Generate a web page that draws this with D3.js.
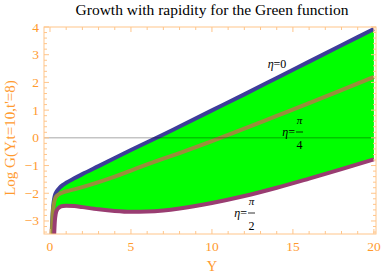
<!DOCTYPE html>
<html>
<head>
<meta charset="utf-8">
<style>
    body { margin: 0; background: #fff; }
    text { font-family: "Liberation Serif", "DejaVu Serif", serif; }
</style>
</head>
<body>
<div id="chart"></div>
<script src="https://d3js.org/d3.v7.min.js"></script>
<script>
    // rapidity grid and the three curves
    var rapidity = [0.09, 0.13, 0.16, 0.2, 0.25, 0.3, 0.35, 0.45, 0.6, 0.8, 1, 1.5, 2, 3, 4, 5, 6, 7, 8, 10, 12, 14, 16, 18, 20];
    var eta0 = [-3.6, -3.1, -2.75, -2.45, -2.22, -2.08, -2.0, -1.9, -1.8, -1.7, -1.62, -1.46, -1.31, -1.02, -0.73, -0.44, -0.16, 0.12, 0.41, 0.99, 1.57, 2.16, 2.75, 3.34, 3.93];
    var etaPi4 = [-3.7, -3.2, -2.85, -2.55, -2.35, -2.22, -2.15, -2.08, -2.02, -1.97, -1.93, -1.86, -1.78, -1.6, -1.4, -1.18, -0.96, -0.75, -0.55, -0.12, 0.33, 0.79, 1.25, 1.72, 2.2];
    var etaPi2 = [null, null, null, null, -3.6, -3.0, -2.75, -2.58, -2.5, -2.46, -2.45, -2.46, -2.5, -2.58, -2.64, -2.67, -2.66, -2.62, -2.55, -2.35, -2.1, -1.8, -1.47, -1.13, -0.78];
    var xTicks = [0, 5, 10, 15, 20];
    var yTicks = [-3, -2, -1, 0, 1, 2, 3, 4];

    var W = 382, H = 275;
    var mLeft = 44, mRight = 376, mTop = 27, mBottom = 234;
    var orange = "#ff9a2e", frameCol = "#ffc58a";

    var svg = d3.select("#chart").append("svg")
        .attr("width", W).attr("height", H);

    var x = d3.scaleLinear().domain([-0.37, 20.13]).range([mLeft, mRight]);
    var y = d3.scaleLinear().domain([-3.47, 4]).range([mBottom, mTop]);

    svg.append("clipPath").attr("id", "plot")
        .append("rect").attr("x", mLeft).attr("y", mTop)
        .attr("width", mRight - mLeft).attr("height", mBottom - mTop);

    var g = svg.append("g").attr("clip-path", "url(#plot)");

    // green filling between eta=0 and eta=pi/2
    var area = d3.area()
        .curve(d3.curveMonotoneX)
        .x((d, i) => x(rapidity[i]))
        .y1((d, i) => y(eta0[i]))
        .y0((d, i) => y(etaPi2[i] == null ? -4 : etaPi2[i]));
    g.append("path").datum(rapidity).attr("d", area).attr("fill", "#00ff00");

    var curves = [
        { vals: eta0, color: "#3d3d99" },
        { vals: etaPi4, color: "#998d3d" },
        { vals: etaPi2, color: "#993d71" }
    ];
    curves.forEach(c => {
        var line = d3.line()
            .curve(d3.curveMonotoneX)
            .defined((d, i) => c.vals[i] != null)
            .x((d, i) => x(rapidity[i]))
            .y((d, i) => y(c.vals[i]));
        g.append("path").datum(rapidity).attr("d", line)
            .attr("fill", "none").attr("stroke", c.color)
            .attr("stroke-width", 4).attr("stroke-linejoin", "round");
    });

    // horizontal axis at 0
    g.append("line")
        .attr("x1", mLeft).attr("x2", mRight)
        .attr("y1", y(0)).attr("y2", y(0))
        .attr("stroke", "#000").attr("stroke-opacity", 0.35).attr("stroke-width", 1);

    // frame
    svg.append("rect").attr("x", mLeft).attr("y", mTop)
        .attr("width", mRight - mLeft).attr("height", mBottom - mTop)
        .attr("fill", "none").attr("stroke", frameCol).attr("stroke-width", 1);

    // ticks on all four sides
    var xMinor = d3.range(0, 20.01, 1);
    var yMinor = d3.range(-3.4, 4.01, 0.2);
    var tk = svg.append("g").attr("stroke", frameCol).attr("stroke-width", 1);
    xMinor.forEach(v => {
        var len = (v % 5 == 0) ? 5 : 3;
        tk.append("line").attr("x1", x(v)).attr("x2", x(v)).attr("y1", mBottom).attr("y2", mBottom - len);
        tk.append("line").attr("x1", x(v)).attr("x2", x(v)).attr("y1", mTop).attr("y2", mTop + len);
    });
    yMinor.forEach(v => {
        var major = Math.abs(v - Math.round(v)) < 1e-6;
        var len = major ? 5 : 3;
        tk.append("line").attr("x1", mLeft).attr("x2", mLeft + len).attr("y1", y(v)).attr("y2", y(v));
        tk.append("line").attr("x1", mRight).attr("x2", mRight - len).attr("y1", y(v)).attr("y2", y(v));
    });

    svg.selectAll(".xl").data(xTicks).enter().append("text")
        .attr("x", d => x(d)).attr("y", mBottom + 17)
        .attr("text-anchor", "middle").attr("font-size", 13.5).attr("fill", orange)
        .text(d => d);
    svg.selectAll(".yl").data(yTicks).enter().append("text")
        .attr("x", mLeft - 5).attr("y", d => y(d) + 4.5)
        .attr("text-anchor", "end").attr("font-size", 13.5).attr("fill", orange)
        .text(d => d < 0 ? "\u2212" + Math.abs(d) : d);

    // titles
    svg.append("text").attr("x", 212).attr("y", 15)
        .attr("text-anchor", "middle").attr("font-size", 15.5).attr("fill", "#000")
        .text("Growth with rapidity for the Green function");
    svg.append("text").attr("x", x(10)).attr("y", 271)
        .attr("text-anchor", "middle").attr("font-size", 14.5).attr("fill", orange)
        .text("Y");
    svg.append("text").attr("transform", "translate(15," + 138 + ") rotate(-90)")
        .attr("text-anchor", "middle").attr("font-size", 15).attr("fill", orange)
        .text("Log G(Y,t=10,t'=8)");

    // curve labels
    function etaLabel(px, py, num, den) {
        var lg = svg.append("g").attr("font-size", 12).attr("fill", "#000");
        if (den == null) {
            var t = lg.append("text").attr("x", px).attr("y", py + 4).attr("text-anchor", "middle");
            t.append("tspan").attr("font-style", "italic").text("\u03b7");
            t.append("tspan").text("=" + num);
            return;
        }
        var t2 = lg.append("text").attr("x", px - 2).attr("y", py + 4).attr("text-anchor", "end");
        t2.append("tspan").attr("font-style", "italic").text("\u03b7");
        t2.append("tspan").text("=");
        lg.append("text").attr("x", px + 2.5).attr("y", py - 8).attr("text-anchor", "middle")
            .attr("font-style", "italic").attr("font-size", 11).text(num);
        lg.append("line").attr("x1", px - 1).attr("x2", px + 6).attr("y1", py).attr("y2", py)
            .attr("stroke", "#000").attr("stroke-width", 0.8);
        lg.append("text").attr("x", px + 2.5).attr("y", py + 17).attr("text-anchor", "middle").text(den);
    }
    etaLabel(277, 64, "0");
    etaLabel(297, 132, "\u03c0", "4");
    etaLabel(249, 213, "\u03c0", "2");
</script>
</body>
</html>
